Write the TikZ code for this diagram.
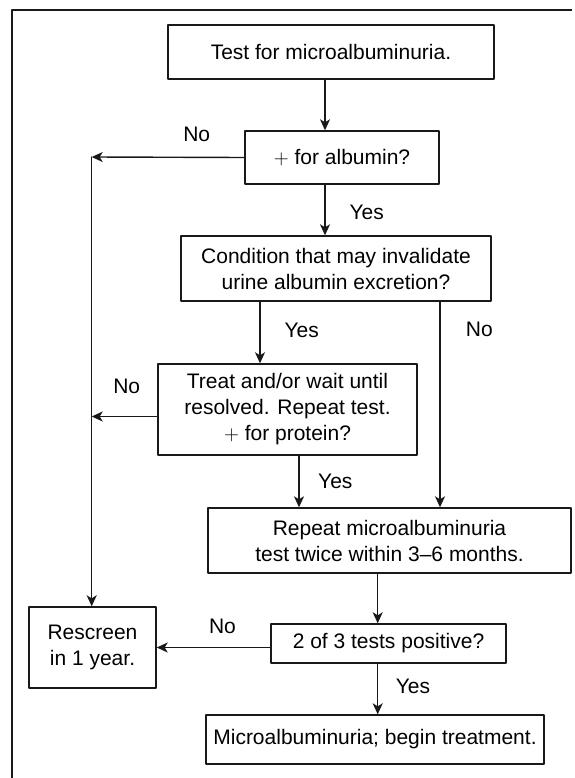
\documentclass[tikz,border=0pt]{standalone}
\usepackage{fontspec}
\setmainfont{Liberation Sans}
\usepackage{tikz}
\usetikzlibrary{arrows.meta}
\definecolor{qqqqqq}{rgb}{0.1,0.1,0.1}
\tikzset{stepbox/.style={draw=qqqqqq,line width=1.4pt,align=center,inner sep=0pt},
  lbl/.style={inner sep=0pt,color=black},
  conn/.style={->,color=qqqqqq,line width=1.4pt}}

\begin{document}
\begin{tikzpicture}[line cap=round,line join=round,>={Stealth[length=11pt,width=10pt,inset=3pt]},x=1pt,y=-1pt,font=\fontsize{21}{26}\selectfont]
\useasboundingbox (0,0) rectangle (574,778);
\draw [color=qqqqqq,line width=1.4pt,line cap=butt] (12,778)-- (12,10)-- (572,10);

\node [stepbox,minimum width=326pt,minimum height=54pt] (test) at (331,52) {Test for microalbuminuria.};
\node [stepbox,minimum width=194pt,minimum height=53pt] (albumin) at (342,157.5) {$+$ for albumin?};
\node [stepbox,minimum width=310pt,minimum height=65pt] (cond) at (336,268.5) {Condition that may invalidate\\urine albumin excretion?};
\node [stepbox,minimum width=259pt,minimum height=91pt] (treat) at (287.5,409.5) {Treat and/or wait until\\resolved. Repeat test.\\$+$ for protein?};
\node [stepbox,minimum width=363pt,minimum height=65pt] (repeat) at (389.5,540.5) {Repeat microalbuminuria\\test twice within 3–6 months.};
\node [stepbox,minimum width=235pt,minimum height=39pt] (twoof3) at (388.5,643.5) {2 of 3 tests positive?};
\node [stepbox,minimum width=127pt,minimum height=81pt] (rescreen) at (92.5,647.5) {Rescreen\\in 1 year.};
\node [stepbox,minimum width=338pt,minimum height=49pt] (begin) at (375,739.5) {Microalbuminuria; begin treatment.};
\coordinate (nojoin) at (91.7,157);

\draw [conn] ([xshift=-6pt]test.south) -- ([xshift=-17pt]albumin.north);
\draw [conn] ([xshift=-17pt]albumin.south) -- ([xshift=-11pt]cond.north);
\draw [conn] ([xshift=-76pt]cond.south) -- ([xshift=-27.5pt]treat.north);
\draw [conn] ([xshift=104pt]cond.south) -- ([xshift=50.5pt]repeat.north);
\draw [conn] ([xshift=11.5pt]treat.south) -- ([xshift=-90.5pt]repeat.north);
\draw [conn] ([xshift=-11.8pt]repeat.south) -- ([xshift=-10.8pt]twoof3.north);
\draw [conn] ([xshift=-10.8pt]twoof3.south) -- ([xshift=2.7pt]begin.north);
\draw [conn] (albumin.west) -- (nojoin);
\draw [conn] (nojoin) -- (nojoin |- rescreen.north);
\draw [conn] ([yshift=-7pt]treat.west) -- ([yshift=-7pt]treat.west -| nojoin);
\draw [conn] (twoof3.west |- rescreen.east) -- (rescreen.east);

\node [lbl] (no1) at (196.7,134.3) {No};
\node [lbl] (yes1) at (366.7,212.7) {Yes};
\node [lbl] (yes2) at (301.7,330) {Yes};
\node [lbl] (no2) at (479.3,329) {No};
\node [lbl] (no3) at (126.7,386.7) {No};
\node [lbl] (yes3) at (335.3,481.7) {Yes};
\node [lbl] (no4) at (222.5,626.5) {No};
\node [lbl] (yes4) at (413,686) {Yes};
\end{tikzpicture}
\end{document}
